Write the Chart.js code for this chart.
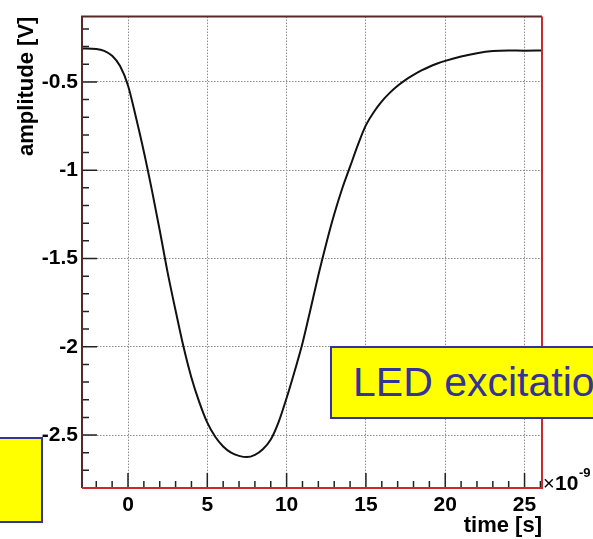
<!DOCTYPE html>
<html>
<head>
<meta charset="utf-8">
<script src="https://cdn.jsdelivr.net/npm/chart.js@4"></script>
<style>
  body { margin: 0; background: #fff; overflow: hidden; }
  #wrap { position: relative; width: 593px; height: 539px; }
  .note {
    position: absolute; background: #ffff00; border: 2px solid #333399;
    box-sizing: border-box; color: #333399; font-family: "Liberation Sans", Arial, sans-serif;
    white-space: nowrap; overflow: hidden;
  }
</style>
</head>
<body>
<div id="wrap">
  <canvas id="chart" width="593" height="539"></canvas>
  <div class="note" style="left:-2px; top:437px; width:45px; height:86px;"></div>
  <div class="note" style="left:330px; top:346px; width:280px; height:73px; font-size:41px; line-height:69px; padding-left:21px;">LED excitation</div>
</div>
<script>
// time in ns, amplitude in V
const times = [-2.9, -2.0, -1.5, -1.0, -0.5, 0, 0.5, 1.0, 1.5, 2.0, 2.5, 3.0, 3.5, 4.0, 4.5, 5.0, 5.5, 6.0, 6.5, 7.0, 7.5, 8.0, 8.5, 9.0, 9.5, 10.0, 10.5, 11.0, 11.5, 12.0, 12.5, 13.0, 13.5, 14.0, 14.5, 15.0, 15.5, 16.0, 16.5, 17.0, 17.5, 18.0, 18.5, 19.0, 19.5, 20.0, 21.0, 22.0, 23.0, 24.0, 25.0, 26.1];
const amplitude = [-0.31, -0.313, -0.324, -0.352, -0.41, -0.52, -0.70, -0.895, -1.11, -1.34, -1.58, -1.795, -2.0, -2.175, -2.315, -2.43, -2.51, -2.565, -2.60, -2.618, -2.625, -2.612, -2.58, -2.525, -2.425, -2.29, -2.14, -1.98, -1.79, -1.595, -1.415, -1.25, -1.105, -0.98, -0.855, -0.745, -0.67, -0.61, -0.562, -0.522, -0.488, -0.46, -0.435, -0.414, -0.396, -0.381, -0.356, -0.337, -0.325, -0.322, -0.323, -0.322];
const xTicks = [0, 5, 10, 15, 20, 25];
const yTicks = [-2.5, -2, -1.5, -1, -0.5];
const xMinor = [-2, -1, 1, 2, 3, 4, 6, 7, 8, 9, 11, 12, 13, 14, 16, 17, 18, 19, 21, 22, 23, 24, 26];
const yMinor = [-2.7, -2.6, -2.4, -2.3, -2.2, -2.1, -1.9, -1.8, -1.7, -1.6, -1.4, -1.3, -1.2, -1.1, -0.9, -0.8, -0.7, -0.6, -0.4, -0.3, -0.2];

const points = times.map((t, i) => ({ x: t, y: amplitude[i] }));
const font = "'Liberation Sans', Arial, sans-serif";

// inner ticks, frame and exponent label, like a ROOT canvas
const rootFrame = {
  id: "rootFrame",
  afterDraw(chart) {
    const { ctx, chartArea: a, scales: { x, y } } = chart;
    ctx.save();
    ctx.strokeStyle = "#222";
    ctx.lineWidth = 1.5;
    ctx.beginPath();
    xTicks.forEach(v => { const px = x.getPixelForValue(v); ctx.moveTo(px, a.bottom); ctx.lineTo(px, a.bottom - 15); });
    xMinor.forEach(v => { const px = x.getPixelForValue(v); ctx.moveTo(px, a.bottom); ctx.lineTo(px, a.bottom - 7); });
    yTicks.forEach(v => { const py = y.getPixelForValue(v); ctx.moveTo(a.left, py); ctx.lineTo(a.left + 15, py); });
    yMinor.forEach(v => { const py = y.getPixelForValue(v); ctx.moveTo(a.left, py); ctx.lineTo(a.left + 7, py); });
    ctx.stroke();

    ctx.lineWidth = 2;
    ctx.strokeStyle = "#5a2626";
    ctx.beginPath();
    ctx.moveTo(a.left, a.bottom); ctx.lineTo(a.left, a.top); ctx.lineTo(a.right, a.top);
    ctx.stroke();
    ctx.strokeStyle = "#cc2a2a";
    ctx.beginPath();
    ctx.moveTo(a.right, a.top); ctx.lineTo(a.right, a.bottom); ctx.lineTo(a.left, a.bottom);
    ctx.stroke();

    // exponent of the time axis
    ctx.fillStyle = "#000";
    ctx.textBaseline = "middle";
    ctx.textAlign = "left";
    ctx.font = "20px " + font;
    ctx.fillText("\u00d7", a.right + 1, a.bottom - 4);
    ctx.font = "bold 21px " + font;
    ctx.fillText("10", a.right + 13, a.bottom - 4);
    ctx.font = "bold 13px " + font;
    ctx.fillText("-9", a.right + 37, a.bottom - 15);
    ctx.restore();
  }
};

new Chart(document.getElementById("chart"), {
  type: "line",
  data: {
    datasets: [{
      data: points,
      borderColor: "#111",
      borderWidth: 2,
      pointRadius: 0,
      cubicInterpolationMode: "monotone",
      fill: false
    }]
  },
  options: {
    responsive: false,
    animation: false,
    layout: { padding: { top: 13, right: 51, left: 0, bottom: 0 } },
    plugins: { legend: { display: false }, tooltip: { enabled: false } },
    scales: {
      x: {
        type: "linear",
        min: -2.9,
        max: 26.1,
        afterBuildTicks: s => { s.ticks = xTicks.map(v => ({ value: v })); },
        afterFit: s => { s.height = 51; },
        grid: { color: "#8a8a8a", lineWidth: 1, drawTicks: false },
        border: { display: false, dash: [1.5, 1.5] },
        ticks: { color: "#000", font: { family: font, size: 21, weight: "bold" }, padding: 5, maxRotation: 0 },
        title: { display: true, text: "time [s]", align: "end", color: "#000", font: { family: font, size: 22, weight: "bold" }, padding: { top: 0, bottom: 0 } }
      },
      y: {
        min: -2.8,
        max: -0.13,
        afterBuildTicks: s => { s.ticks = yTicks.map(v => ({ value: v })); },
        afterFit: s => { s.width = 82; },
        grid: { color: "#8a8a8a", lineWidth: 1, drawTicks: false },
        border: { display: false, dash: [1.5, 1.5] },
        ticks: { color: "#000", font: { family: font, size: 21, weight: "bold" }, padding: 4, callback: v => String(v) },
        title: { display: true, text: "amplitude [V]", align: "end", color: "#000", font: { family: font, size: 22, weight: "bold" }, padding: { top: 14, bottom: 0 } }
      }
    }
  },
  plugins: [rootFrame]
});
</script>
</body>
</html>
